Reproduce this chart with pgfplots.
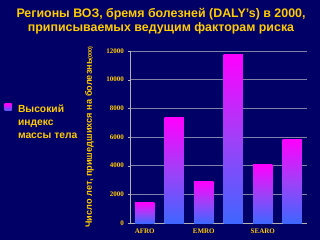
\documentclass[border=0pt]{standalone}
\usepackage{pgfplots}
\pgfplotsset{compat=1.18}
\usepackage{fontspec}
\setmainfont{Liberation Sans}
\newfontfamily\serifb{Liberation Serif}
\definecolor{bg}{HTML}{000066}
\definecolor{gold}{HTML}{FFCC00}
\definecolor{barbot}{HTML}{3F66FF}
\definecolor{barmid}{HTML}{A040F8}
\definecolor{bartop}{HTML}{FF00FF}
\definecolor{gridc}{HTML}{8080A8}
\begin{document}
\begin{tikzpicture}[x=1pt,y=1pt]
\fill[bg] (0,0) rectangle (320,240);
\path[use as bounding box] (0,0) rectangle (320,240);
\node[text=gold, font=\bfseries\fontsize{12.4}{14.5}\selectfont, align=center] at (161,219) {Регионы ВОЗ, бремя болезней (DALY's) в 2000,\\приписываемых ведущим факторам риска};
\shade[top color=bartop, bottom color=barbot] (4.5,129) rectangle (11.5,136);
\node[text=gold, font=\bfseries\fontsize{10.3}{13.2}\selectfont, align=left, anchor=north west] at (14.5,139) {Высокий\\индекс\\массы тела};
\begin{axis}[
  at={(130pt,17pt)}, anchor=south west,
  width=177pt, height=172pt, scale only axis,
  xmin=-0.5, xmax=5.5, ymin=0, ymax=12000,
  axis background/.style={fill=bg},
  axis lines*=left,
  axis line style={draw=gray!60, line width=0.6pt},
  ymajorgrids, grid style={draw=gridc, line width=0.5pt},
  ytick={0,2000,4000,6000,8000,10000,12000},
  yticklabel style={text=gold, font=\serifb\bfseries\fontsize{7}{8}\selectfont},
  scaled y ticks=false,
  /pgf/number format/assume math mode=true,
  /pgf/number format/1000 sep={},
  tick style={draw=gray!60}, major tick length=2.5pt,
  tick align=outside,
  xtick={0,...,5},
  xticklabels={AFRO,,EMRO,,SEARO,},
  xticklabel style={text=gold, font=\serifb\bfseries\fontsize{7}{8}\selectfont},
  x tick style={draw=none},
  ylabel={\bfseries Число лет, пришедшихся на болезнь{\fontsize{5.5}{6}\selectfont(000)}},
  ylabel style={text=gold, font=\fontsize{9.2}{10}\selectfont, at={(axis description cs:-0.185,0.5)}},
  bar width=0.66,
  no markers,
  every axis plot/.append style={ybar, bar shift=0pt, draw=none, top color=bartop, bottom color=barbot, middle color=barmid},
]
\addplot coordinates {(0,1430)};
\addplot coordinates {(1,7340)};
\addplot coordinates {(2,2890)};
\addplot coordinates {(3,11770)};
\addplot coordinates {(4,4080)};
\addplot coordinates {(5,5850)};
\end{axis}
\end{tikzpicture}
\end{document}
